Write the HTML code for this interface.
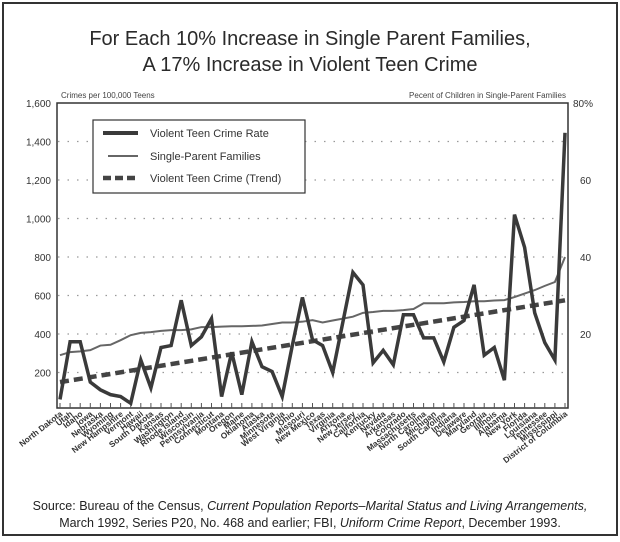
<!DOCTYPE html>
<html><head><meta charset="utf-8"><style>
html,body{margin:0;padding:0;background:#fff;}
svg{display:block;font-family:"Liberation Sans",sans-serif;}
</style></head><body>
<svg id="chart" width="620" height="542" viewBox="0 0 620 542">
<rect x="3" y="3" width="614" height="532" fill="none" stroke="#333" stroke-width="2"/>
<text x="310" y="45" text-anchor="middle" font-size="20" fill="#2a2a2a">For Each 10% Increase in Single Parent Families,</text>
<text x="310" y="71" text-anchor="middle" font-size="20" fill="#2a2a2a">A 17% Increase in Violent Teen Crime</text>
<text x="61" y="98" font-size="8" fill="#444">Crimes per 100,000 Teens</text>
<text x="566" y="98" text-anchor="end" font-size="8" fill="#444">Pecent of Children in Single-Parent Families</text>
<rect x="57" y="103" width="511" height="305" fill="none" stroke="#333" stroke-width="1.5"/>
<g id="grid"></g><g id="ticks"></g><g id="series"></g><g id="labels"></g>
<g>
<rect x="93" y="120" width="212" height="73" fill="#fff" stroke="#333" stroke-width="1.2"/>
<line x1="103" y1="133" x2="138" y2="133" stroke="#3a3a3a" stroke-width="4"/>
<text x="150" y="137" font-size="11" fill="#333">Violent Teen Crime Rate</text>
<line x1="108" y1="156" x2="138" y2="156" stroke="#666" stroke-width="2"/>
<text x="150" y="160" font-size="11" fill="#333">Single-Parent Families</text>
<line x1="103" y1="178" x2="138" y2="178" stroke="#444" stroke-width="4.5" stroke-dasharray="8,4"/>
<text x="150" y="182" font-size="11" fill="#333">Violent Teen Crime (Trend)</text>
</g>
<text x="310" y="510" text-anchor="middle" font-size="12.5" fill="#222">Source: Bureau of the Census, <tspan font-style="italic">Current Population Reports–Marital Status and Living Arrangements,</tspan></text>
<text x="310" y="527" text-anchor="middle" font-size="12.5" fill="#222">March 1992, Series P20, No. 468 and earlier; FBI, <tspan font-style="italic">Uniform Crime Report</tspan>, December 1993.</text>
</svg>
<script>
const states=["North Dakota","Utah","Idaho","Iowa","Nebraska","Wyoming","New Hampshire","Vermont","Hawaii","South Dakota","Kansas","Washington","Rhode Island","Wisconsin","Pennsylvania","Connecticut","Montana","Oregon","Maine","Oklahoma","Alaska","Minnesota","West Virginia","Ohio","Missouri","New Mexico","Texas","Virginia","Arizona","New Jersey","California","Kentucky","Nevada","Arkansas","Colorado","Massachusetts","North Carolina","Michigan","South Carolina","Indiana","Delaware","Maryland","Georgia","Illinois","Alabama","New York","Florida","Louisiana","Tennessee","Mississippi","District of Columbia"];
const crimeRate=[60,360,360,150,110,85,75,40,265,120,330,340,575,340,385,480,75,305,85,360,230,205,75,340,590,370,340,200,460,720,655,250,315,240,500,500,380,380,255,435,470,655,290,330,160,1020,850,510,355,265,1445];
const singleParent=[14.5,15.3,15.5,15.8,17,17.2,18.4,19.7,20.3,20.5,20.8,21,21,21.2,21.8,21.8,21.9,22,22,22.1,22.2,22.6,23,23,23.2,23.6,23,23.5,24,24.5,25.5,25.7,26,26,26.2,26.5,28,28,28,28.2,28.3,28.5,28.5,28.7,28.8,29.6,30.5,31.4,32.5,33.5,40];
const trendEnds=[150,575];
const leftTicks=[200,400,600,800,1000,1200,1400,1600];
const leftTickLabels=["200","400","600","800","1,000","1,200","1,400","1,600"];
const rightTicks=[20,40,60,80];
const rightTickLabels=["20","40","60","80%"];
const NS="http://www.w3.org/2000/svg";
const X0=60,X1=565,Y0=411,YTOP=103;
const x=i=>X0+(X1-X0)*i/(states.length-1);
const yL=v=>Y0-(Y0-YTOP)*v/1600;
const yR=p=>Y0-(Y0-YTOP)*p/80;
function mk(tag,attrs,parent){const e=document.createElementNS(NS,tag);for(const k in attrs)e.setAttribute(k,attrs[k]);parent.appendChild(e);return e;}
const grid=document.getElementById('grid'),ticks=document.getElementById('ticks'),series=document.getElementById('series'),labels=document.getElementById('labels');
leftTicks.forEach((v,i)=>{
 if(v<1600){const g=mk('line',{x1:58,x2:567,y1:yL(v),y2:yL(v),stroke:'#999','stroke-width':1.2,'stroke-dasharray':'1.5,8'},grid);
 
 }
 const t=mk('text',{x:51,y:yL(v)+4,'text-anchor':'end','font-size':10,fill:'#333'},ticks);t.textContent=leftTickLabels[i];
 
 
});
rightTicks.forEach((v,i)=>{
 const t=mk('text',{x:i==3?573:580,y:yR(v)+4,'font-size':10,fill:'#333'},ticks);t.textContent=rightTickLabels[i];
 
 
});
states.forEach((s,i)=>{
 const tk=mk('line',{x1:x(i),x2:x(i),y1:403,y2:408,stroke:'#555','stroke-width':1},ticks);
 
 
 const t=mk('text',{transform:`translate(${x(i)+3},415) rotate(-38)`,'text-anchor':'end','font-size':8.3,'font-weight':'bold',fill:'#333'},labels);
 t.textContent=s;
 
 
});
const sp=mk('polyline',{points:singleParent.map((p,i)=>x(i)+','+yR(p)).join(' '),fill:'none',stroke:'#666','stroke-width':2},series);


const tr=mk('line',{x1:x(0),y1:yL(trendEnds[0]),x2:x(states.length-1),y2:yL(trendEnds[1]),stroke:'#444','stroke-width':4.5,'stroke-dasharray':'9,5'},series);


const cr=mk('polyline',{points:crimeRate.map((v,i)=>x(i)+','+yL(v)).join(' '),fill:'none',stroke:'#3a3a3a','stroke-width':3.5,'stroke-linejoin':'miter'},series);


</script>
</body></html>
